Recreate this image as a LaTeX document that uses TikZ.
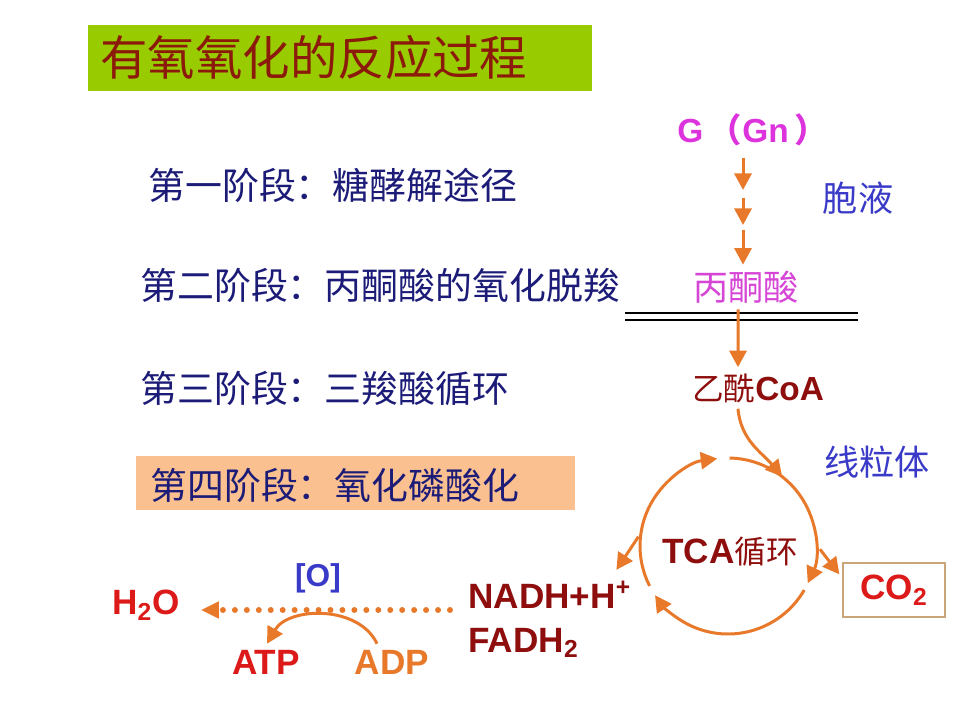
\documentclass[tikz,border=0pt]{standalone}
\usepackage{fontspec}
\setmainfont{Liberation Sans}
\newfontfamily\cjk{Noto Sans CJK SC}
\usepackage{xcolor}
\usetikzlibrary{positioning,arrows.meta,calc}
\definecolor{titlegreen}{HTML}{99CC00}
\definecolor{titlered}{HTML}{8B1A0A}
\definecolor{stageblue}{HTML}{1C1C78}
\definecolor{peach}{HTML}{FAC090}
\definecolor{gmag}{HTML}{DD33DD}
\definecolor{pyrmag}{HTML}{D646D6}
\definecolor{floworange}{HTML}{E8792B}
\definecolor{cellblue}{HTML}{3A3AC8}
\definecolor{darkred}{HTML}{8E0E0E}
\definecolor{brightred}{HTML}{DD1A1A}
\definecolor{co2edge}{HTML}{C8A67A}

\begin{document}
\begin{tikzpicture}[>={Triangle[length=3.3mm,width=3.4mm]},
  stage/.style={anchor=west,inner sep=0pt,text=stageblue,font=\cjk\fontsize{21}{24}\selectfont},
  flow/.style={->,draw=floworange,line width=1.7pt},
  site/.style={text=cellblue,font=\cjk\fontsize{20}{24}\selectfont},
  chem/.style={font=\bfseries\fontsize{20}{24}\selectfont}]
\useasboundingbox (0,0) rectangle (19.2,14.4);
\node[fill=titlegreen,anchor=south west,minimum width=10.08cm,minimum height=1.32cm,inner xsep=0.24cm,text width=9.6cm,align=left,text=titlered,font=\cjk\fontsize{27}{30}\selectfont] (title) at (1.76,12.58) {有氧氧化的反应过程};
\node[stage] (s1) at (2.96,10.7) {第一阶段：糖酵解途径};
\node[stage] (s2) at (2.80,8.7) {第二阶段：丙酮酸的氧化脱羧};
\node[stage] (s3) at (2.80,6.64) {第三阶段：三羧酸循环};
\node[fill=peach,anchor=south west,minimum width=8.78cm,minimum height=1.08cm] (s4box) at (2.72,4.2) {};
\node[stage] (s4) at (3.0,4.7) {第四阶段：氧化磷酸化};
\node[text=gmag,font=\bfseries\fontsize{19}{22}\selectfont] (glc) at (15.05,11.8) {G\,{\cjk（}Gn\,{\cjk）}};
\coordinate (g1) at (14.86,10.6);
\coordinate (g2) at (14.86,10.44);
\coordinate (g3) at (14.86,9.9);
\coordinate (g4) at (14.86,9.8);
\node[site] (cyto) at (17.16,10.44) {胞液};
\node[text=pyrmag,font=\cjk\fontsize{20}{24}\selectfont] (pyr) at (14.92,8.66) {丙酮酸};
\draw[flow,shorten <=3pt] (glc.south -| g1) -- (g1);
\draw[flow] (g2) -- (g3);
\draw[flow] (g4) -- (pyr.north -| g4);
\draw[line width=0.6pt] (12.5,8.14) -- (17.16,8.14) (12.5,8.0) -- (17.16,8.0);
\node[text=darkred] (acoa) at (15.16,6.64) {{\cjk\fontsize{18}{20}\selectfont 乙酰}{\bfseries\fontsize{19}{22}\selectfont CoA}};
\draw[flow] ([xshift=-0.16cm]pyr.south) -- ([xshift=-0.4cm]acoa.north);
\node[site] (mito) at (17.54,5.16) {线粒体};
\coordinate (cyc) at (14.56,3.48);
\draw[flow] ([xshift=-0.4cm]acoa.south) to[out=-85,in=130] ($(cyc)+(52:1.76)$);
\draw[flow] ($(cyc)+(207:1.76)$) arc[start angle=207,end angle=97,radius=1.76cm];
\draw[flow] ($(cyc)+(89:1.76)$) arc[start angle=89,end angle=-25,radius=1.76cm];
\draw[flow] ($(cyc)+(-30:1.76)$) arc[start angle=-30,end angle=-146,radius=1.76cm];
\node[text=darkred] (tcal) at (14.6,3.36) {{\bfseries\fontsize{20}{22}\selectfont TCA}{\cjk\fontsize{18}{20}\selectfont 循环}};
\node[chem,text=darkred,anchor=west,inner sep=0pt] (nadh) at (9.36,2.5) {NADH+H\textsuperscript{+}};
\node[chem,text=darkred,anchor=west,inner sep=0pt] (fadh) at (9.36,1.54) {FADH\textsubscript{2}};
\node[chem,draw=co2edge,line width=0.8pt,minimum width=2.04cm,minimum height=1.08cm,text=brightred] (co2) at (17.88,2.6) {CO\textsubscript{2}};
\draw[flow] ($(cyc)+(174:1.8)$) -- ([shift={(-0.3,0.22)}]nadh.north east);
\draw[flow] ($(cyc)+(-2:1.84)$) -- ([shift={(-0.06,-0.24)}]co2.north west);
\node[chem,text=brightred] (h2o) at (2.92,2.3) {H\textsubscript{2}O};
\node[text=cellblue,font=\bfseries\fontsize{18}{20}\selectfont] (oxy) at (6.36,2.84) {[O]};
\node[chem,text=brightred] (atp) at (5.32,1.16) {ATP};
\node[chem,text=floworange] (adp) at (7.84,1.16) {ADP};
\coordinate (dotR) at (9.0,2.2);
\draw[draw=floworange,line width=3.4pt,line cap=round,dash pattern=on 0pt off 6.8pt,-{Triangle[length=3.6mm,width=3.2mm]},shorten >=0.3cm] (dotR) -- (h2o.east |- dotR);
\draw[flow] ([xshift=-0.3cm]adp.north) to[out=115,in=60] ([xshift=0.02cm]atp.north);
\end{tikzpicture}
\end{document}
